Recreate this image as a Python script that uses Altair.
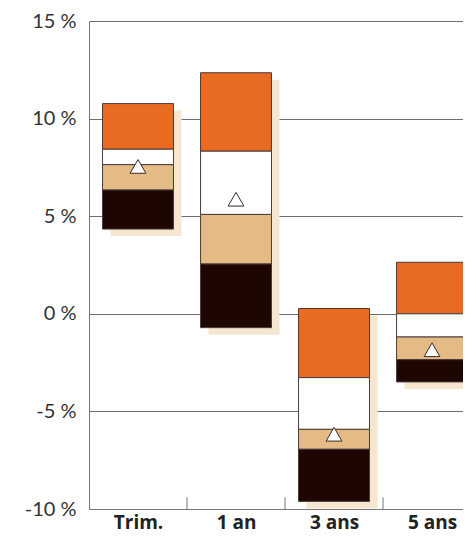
import json
import altair as alt
import pandas as pd

categories = ["Trim.", "1 an", "3 ans", "5 ans"]
top_vals = [10.77, 12.35, 0.27, 2.64]
q1_vals = [8.43, 8.33, -3.27, 0.0]
median_vals = [7.64, 5.09, -5.92, -1.19]
q3_vals = [6.34, 2.55, -6.94, -2.35]
bottom_vals = [4.34, -0.71, -9.61, -3.49]
fund_vals = [7.55, 5.87, -6.17, -1.84]

y_ticks = [-10, -5, 0, 5, 10, 15]
boundaries = [0.5, 1.5, 2.5]

segments = ["1er quartile", "2e quartile", "3e quartile", "4e quartile"]
seg_colors = ["#E96B22", "#FFFFFF", "#E4BA85", "#1E0702"]
HALF = 0.362

rows = []
shadow_rows = []
fund_rows = []
for i, c in enumerate(categories):
    bounds = [top_vals[i], q1_vals[i], median_vals[i], q3_vals[i], bottom_vals[i]]
    for k, s in enumerate(segments):
        rows.append({"cat": c, "x": i - HALF, "x2": i + HALF,
                     "y": bounds[k], "y2": bounds[k + 1], "seg": s})
    shadow_rows.append({"cat": c, "x": i - HALF, "x2": i + HALF,
                        "y": top_vals[i], "y2": bottom_vals[i]})
    fund_rows.append({"cat": c, "x": i, "y": fund_vals[i]})

df = pd.DataFrame(rows)
df_shadow = pd.DataFrame(shadow_rows)
df_fund = pd.DataFrame(fund_rows)
df_ticks = pd.DataFrame({"x": boundaries, "y": [-10] * 3, "y2": [-9.4] * 3})

label_expr = json.dumps(categories) + "[datum.value]"

xscale = alt.Scale(domain=[-0.5, 3.316], nice=False, zero=False)
yscale = alt.Scale(domain=[-10, 15], nice=False, zero=False)

x_axis = alt.Axis(values=[0, 1, 2, 3], labelExpr=label_expr, title=None,
                  ticks=False, grid=False, domainColor="#777777",
                  labelFont="Open Sans", labelFontSize=19, labelFontWeight="bold",
                  labelColor="#222222", labelPadding=4)
y_axis = alt.Axis(values=y_ticks, labelExpr="datum.value + ' %'", title=None,
                  ticks=False, grid=True, gridColor="#6e6e6e", gridWidth=1,
                  domainColor="#777777", labelFont="Lato", labelFontSize=20,
                  labelColor="#333333", labelPadding=13)

base_x = alt.X("x:Q", scale=xscale, axis=x_axis)

shadow = alt.Chart(df_shadow).mark_rect(
    color="#F5E6CF", xOffset=8, x2Offset=8, yOffset=7, y2Offset=7, clip=True
).encode(x=base_x, x2="x2:Q",
         y=alt.Y("y:Q", scale=yscale, axis=y_axis), y2="y2:Q")

bars = alt.Chart(df).mark_rect(stroke="#4a3c3c", strokeWidth=1, clip=True).encode(
    x=alt.X("x:Q", scale=xscale), x2="x2:Q",
    y=alt.Y("y:Q", scale=yscale), y2="y2:Q",
    color=alt.Color("seg:N", scale=alt.Scale(domain=segments, range=seg_colors),
                    legend=None),
)

tri = alt.Chart(df_fund).mark_point(
    shape="triangle-up", filled=True, fill="white", stroke="#3a2a2a",
    strokeWidth=1, size=250, opacity=1
).encode(x=alt.X("x:Q", scale=xscale), y=alt.Y("y:Q", scale=yscale))

ticks = alt.Chart(df_ticks).mark_rule(color="#777777", strokeWidth=1).encode(
    x=alt.X("x:Q", scale=xscale), y=alt.Y("y:Q", scale=yscale), y2="y2:Q")

chart = alt.layer(shadow, bars, tri, ticks).properties(
    width=374, height=488,
    autosize=alt.AutoSizeParams(type="none"),
    padding={"left": 81, "top": 13, "right": 0, "bottom": 24},
).configure_view(stroke=None)

chart.save("out.html", embed_options={"renderer": "svg", "actions": False})
